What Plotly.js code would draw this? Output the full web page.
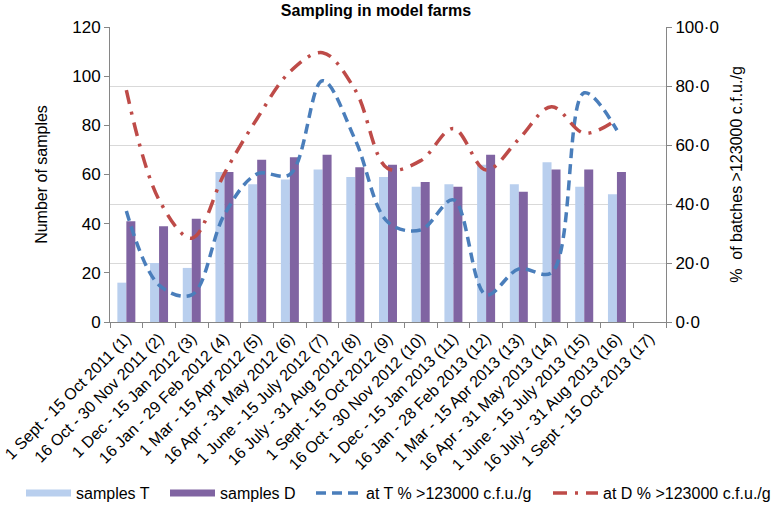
<!DOCTYPE html>
<html>
<head>
<meta charset="utf-8">
<script src="https://cdn.plot.ly/plotly-3.0.1.min.js"></script>
<style>html,body{margin:0;padding:0;background:#fff;}</style>
</head>
<body>
<div id="chart" style="width:775px;height:519px;"></div>
<script>
var periods = ['1 Sept - 15 Oct 2011 (1)', '16 Oct - 30 Nov 2011 (2)', '1 Dec - 15 Jan 2012 (3)',
  '16 Jan - 29 Feb 2012 (4)', '1 Mar - 15 Apr 2012 (5)', '16 Apr - 31 May 2012 (6)',
  '1 June - 15 July 2012 (7)', '16 July - 31 Aug 2012 (8)', '1 Sept - 15 Oct 2012 (9)',
  '16 Oct - 30 Nov 2012 (10)', '1 Dec - 15 Jan 2013 (11)', '16 Jan - 28 Feb 2013 (12)',
  '1 Mar - 15 Apr 2013 (13)', '16 Apr - 31 May 2013 (14)', '1 June - 15 July 2013 (15)',
  '16 July - 31 Aug 2013 (16)', '1 Sept - 15 Oct 2013 (17)'];

var samplesT = [16, 24, 22, 61, 56, 58, 62, 59, 59, 55, 56, 64, 56, 65, 55, 52, null];
var samplesD = [41, 39, 42, 61, 66, 67, 68, 63, 64, 57, 55, 68, 53, 62, 62, 61, null];
var pctT = [37.6, 12.5, 9.2, 36.5, 50.2, 50.0, 81.8, 61.7, 33.8, 31.2, 41.4, 9.2, 18.0, 16.7, 77.7, 65.0, null];
var pctD = [78.6, 41.4, 28.4, 50.4, 69.0, 84.8, 91.3, 78.6, 52.0, 54.7, 65.6, 51.5, 62.0, 73.0, 64.0, 68.7, null];

var font = 'Liberation Sans, Arial, sans-serif';
var colT = '#b9cfee', colD = '#8064a2';

var trace1 = {
  x: periods, y: samplesT, type: 'bar', name: 'samples T', showlegend: false,
  marker: {color: colT}
};
var trace2 = {
  x: periods, y: samplesD, type: 'bar', name: 'samples D', showlegend: false,
  marker: {color: colD}
};
// legend-only entries so the bar keys are drawn as wide strips
var key1 = {
  x: [null], y: [null], type: 'scatter', mode: 'lines', name: 'samples T',
  line: {color: colT, width: 7}
};
var key2 = {
  x: [null], y: [null], type: 'scatter', mode: 'lines', name: 'samples D', legend: 'legend2',
  line: {color: colD, width: 7}
};
var trace3 = {
  x: periods, y: pctT, type: 'scatter', mode: 'lines', yaxis: 'y2', legend: 'legend3',
  name: 'at T % >123000 c.f.u./g',
  line: {color: '#4a7ebb', width: 3.5, dash: '10px,6px', shape: 'spline'}
};
var trace4 = {
  x: periods, y: pctD, type: 'scatter', mode: 'lines', yaxis: 'y2', legend: 'legend4',
  name: 'at D % >123000 c.f.u./g',
  line: {color: '#be4b48', width: 3.5, dash: '14px,8px,3px,8px', shape: 'spline'}
};

var data = [trace1, trace2, key1, key2, trace3, trace4];

// one legend box per entry, laid out along the bottom like the original
function legendAt(px) {
  return {
    orientation: 'h',
    xref: 'container', yref: 'container',
    x: px / 775, xanchor: 'left',
    y: 0.05, yanchor: 'middle',
    font: {size: 16},
    itemwidth: 45
  };
}

var layout = {
  width: 775, height: 519,
  margin: {l: 110, r: 109, t: 27, b: 197},
  paper_bgcolor: '#fff', plot_bgcolor: '#fff',
  font: {family: font, size: 16, color: '#000'},
  separators: '·,',
  showlegend: true,
  title: {text: '<b>Sampling in model farms</b>', font: {size: 16}, x: 376 / 775, xanchor: 'center', y: 0.99, yanchor: 'top'},
  barmode: 'group',
  bargap: 0.45,
  bargroupgap: 0,
  xaxis: {
    type: 'category',
    automargin: false,
    tickangle: -45,
    tickson: 'boundaries',
    ticks: 'outside', ticklen: 5, tickcolor: '#868686',
    showline: true, linecolor: '#868686', linewidth: 1,
    showgrid: false,
    tickfont: {size: 16}
  },
  yaxis: {
    automargin: false,
    title: {text: 'Number of samples', font: {size: 16}, standoff: 20},
    range: [0, 120], dtick: 20,
    showgrid: false, zeroline: false,
    showline: true, linecolor: '#868686',
    ticks: 'outside', ticklen: 5, tickcolor: '#868686',
    tickfont: {size: 17}
  },
  yaxis2: {
    automargin: false,
    title: {text: '%  of batches >123000 c.f.u./g', font: {size: 16}, standoff: 12},
    overlaying: 'y', side: 'right',
    range: [0, 100], dtick: 20, tickformat: '.1f',
    showgrid: true, gridcolor: '#d9d9d9', gridwidth: 1,
    zeroline: false,
    showline: true, linecolor: '#868686',
    ticks: 'outside', ticklen: 5, tickcolor: '#868686',
    tickfont: {size: 17}
  },
  legend: legendAt(21),
  legend2: legendAt(165),
  legend3: legendAt(311),
  legend4: legendAt(548)
};

Plotly.newPlot('chart', data, layout, {displayModeBar: false});
</script>
</body>
</html>
